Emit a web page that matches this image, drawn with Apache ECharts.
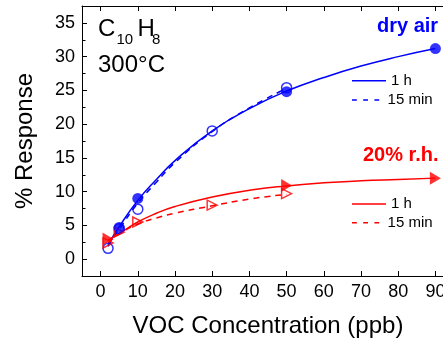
<!DOCTYPE html>
<html>
<head>
<meta charset="utf-8">
<script src="https://cdn.jsdelivr.net/npm/echarts@6/dist/echarts.min.js"></script>
<style>
  html, body { margin: 0; padding: 0; background: #fff; overflow: hidden; }
  /* the plot frame runs past the right edge of the window, so the canvas is a bit wider */
  #chart { width: 455px; height: 343px; }
</style>
</head>
<body>
<div id="chart"></div>
<script>
// Naphthalene (C10H8) sensor response at 300 °C, dry air vs 20 % r.h.

// Fitted response curves, read at these concentrations (ppb)
const fitX1h = [2, 5, 10, 15, 20, 30, 40, 50, 60, 70, 80, 90];
const fitX15 = [2, 5, 10, 15, 20, 30, 40, 50];
const dryFit1h = [2.1, 4.8, 8.7, 11.8, 14.6, 19.0, 22.3, 24.9, 26.9, 28.6, 30.0, 31.2];
const dryFit15 = [1.9, 4.4, 8.3, 11.4, 14.3, 18.9, 22.4, 25.3];
const humidFit1h = [2.8, 3.8, 5.5, 6.8, 7.8, 9.2, 10.2, 10.85, 11.3, 11.6, 11.8, 12.0];
const humidFit15 = [2.4, 3.7, 5.2, 6.1, 6.8, 7.9, 8.9, 9.6];

// Measured points
const dry1hX = [5, 10, 50, 90];
const dry1hY = [4.7, 9.0, 24.8, 31.2];
const dry15X = [2, 5, 10, 30, 50];
const dry15Y = [1.6, 4.5, 7.4, 19.0, 25.4];
const humid1hX = [2, 50, 90];
const humid1hY = [3.0, 10.9, 12.0];
const humid15X = [2, 5, 10, 30, 50];
const humid15Y = [2.4, 4.0, 5.5, 8.0, 9.7];

// Axis ticks
const xTicks = [0, 10, 20, 30, 40, 50, 60, 70, 80, 90];
const yTicks = [0, 5, 10, 15, 20, 25, 30, 35];
const yMinorTicks = [2.5, 7.5, 12.5, 17.5, 22.5, 27.5, 32.5];

const BLUE = '#0000ff';
const RED = '#ff0000';
const FONT = '"Liberation Sans", Arial, Helvetica, sans-serif';

const pairs = (xs, ys) => xs.map((x, i) => [x, ys[i]]);

const legendName = {
  dry1h: '1 h', dry15: '15 min', humid1h: '1 h', humid15: '15 min'
};
const dashIcon = 'path://M0,0h6v2h-6z M14,0h6v2h-6z M28,0h6v2h-6z';

function legendFor(name, icon, top) {
  return {
    data: [{ name: name, icon: icon }],
    left: 352, top: top,
    orient: 'vertical',
    itemWidth: 34, itemHeight: 1.6, itemGap: 0, padding: 0,
    selectedMode: false,
    formatter: n => legendName[n],
    textStyle: { fontFamily: FONT, fontSize: 15, color: '#000' }
  };
}

function fitLine(name, xs, ys, color, dashed) {
  return {
    name: name, type: 'line', data: pairs(xs, ys),
    smooth: true, symbol: 'none', showSymbol: false,
    lineStyle: { color: color, width: 1.5, type: dashed ? [6, 5] : 'solid' },
    itemStyle: { color: color },
    z: 2
  };
}

function markers(xs, ys, symbol, size, rotate, color, filled) {
  return {
    type: 'scatter', data: pairs(xs, ys),
    symbol: symbol, symbolSize: size, symbolRotate: rotate,
    itemStyle: filled
      ? { color: color }
      : { color: 'rgba(255,255,255,0)', borderColor: color, borderWidth: 1.5 },
    z: filled ? 4 : 3
  };
}

const axisLine = { show: true, onZero: false, lineStyle: { color: '#000', width: 1 } };
const tickStyle = { color: '#000', width: 1 };

const chart = echarts.init(document.getElementById('chart'), null, { renderer: 'canvas' });

chart.setOption({
  animation: false,
  backgroundColor: '#fff',
  grid: { left: 82, right: 1, top: 6, bottom: 64, containLabel: false },
  xAxis: [
    {
      type: 'value', position: 'bottom', min: -5, max: 95,
      name: 'VOC Concentration (ppb)', nameLocation: 'middle', nameGap: 38,
      nameTextStyle: { fontFamily: FONT, fontSize: 24, color: '#000' },
      axisLine: axisLine,
      axisTick: { show: true, inside: true, length: 5, customValues: xTicks, lineStyle: tickStyle },
      axisLabel: { customValues: xTicks, margin: 7, fontFamily: FONT, fontSize: 18, color: '#000' },
      splitLine: { show: false }
    },
    {
      type: 'value', position: 'top', min: -5, max: 95,
      axisLine: axisLine,
      axisTick: { show: true, inside: true, length: 5, customValues: xTicks, lineStyle: tickStyle },
      axisLabel: { show: false },
      splitLine: { show: false }
    }
  ],
  yAxis: [
    {
      type: 'value', position: 'left', min: -2.5, max: 37.5,
      name: '% Response', nameLocation: 'middle', nameGap: 45, nameRotate: 90,
      nameTextStyle: { fontFamily: FONT, fontSize: 24, color: '#000' },
      axisLine: axisLine,
      axisTick: { show: true, inside: true, length: 5, customValues: yTicks, lineStyle: tickStyle },
      axisLabel: { customValues: yTicks, margin: 7, fontFamily: FONT, fontSize: 18, color: '#000' },
      splitLine: { show: false }
    },
    {
      type: 'value', position: 'left', offset: 0, min: -2.5, max: 37.5,
      axisLine: { show: false, onZero: false },
      axisTick: { show: true, inside: true, length: 3.5, customValues: yMinorTicks, lineStyle: tickStyle },
      axisLabel: { show: false },
      splitLine: { show: false }
    }
  ],
  legend: [
    legendFor('dry1h', 'rect', 73.2),
    legendFor('dry15', dashIcon, 92.5),
    legendFor('humid1h', 'rect', 196.5),
    legendFor('humid15', dashIcon, 215.3)
  ],
  series: [
    fitLine('dry1h', fitX1h, dryFit1h, BLUE, false),
    fitLine('dry15', fitX15, dryFit15, BLUE, true),
    fitLine('humid1h', fitX1h, humidFit1h, RED, false),
    fitLine('humid15', fitX15, humidFit15, RED, true),
    markers(dry15X, dry15Y, 'circle', 10, 0, BLUE, false),
    markers(dry1hX, dry1hY, 'circle', 11, 0, BLUE, true),
    markers(humid15X, humid15Y, 'triangle', [10, 10], -90, RED, false),
    markers(humid1hX, humid1hY, 'triangle', [13, 11], -90, RED, true)
  ],
  graphic: [
    { type: 'text', left: 98, top: 17, style: { text: 'C', font: '24px ' + FONT, fill: '#000' } },
    { type: 'text', left: 116.5, top: 32.5, style: { text: '10', font: '15px ' + FONT, fill: '#000' } },
    { type: 'text', left: 137.5, top: 17, style: { text: 'H', font: '24px ' + FONT, fill: '#000' } },
    { type: 'text', left: 152, top: 32.5, style: { text: '8', font: '15px ' + FONT, fill: '#000' } },
    { type: 'text', left: 98, top: 53.5, style: { text: '300°C', font: '24px ' + FONT, fill: '#000' } },
    { type: 'text', left: 377, top: 16, style: { text: 'dry air', font: 'bold 20px ' + FONT, fill: BLUE } },
    { type: 'text', left: 363, top: 145, style: { text: '20% r.h.', font: 'bold 20px ' + FONT, fill: RED } }
  ]
});
</script>
</body>
</html>
